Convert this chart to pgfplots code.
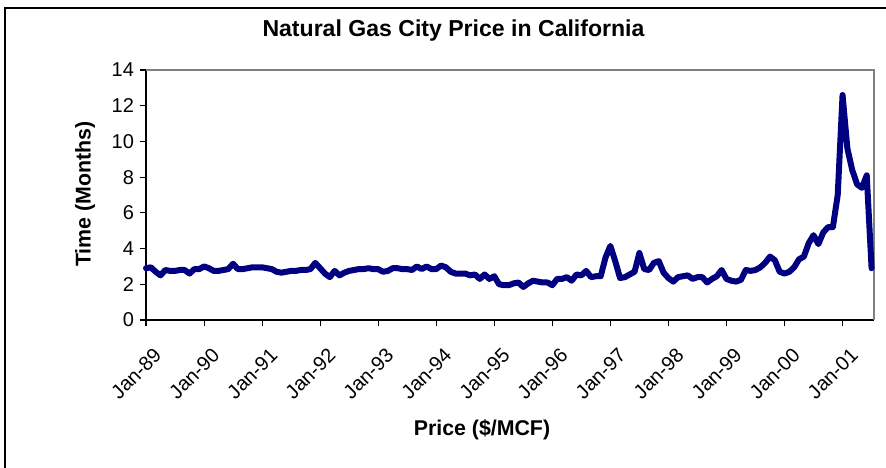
\documentclass[border=0pt]{standalone}
\usepackage{pgfplots}
\pgfplotsset{compat=1.18}
\usepackage{pgfplotstable}
\usepackage{fontspec}
\setmainfont{Liberation Sans}
\definecolor{navyline}{RGB}{0,0,128}
\definecolor{framegray}{RGB}{128,128,128}
\pgfplotstableread{
m p
0 2.9
1 2.95
2 2.7
3 2.5
4 2.8
5 2.75
6 2.75
7 2.8
8 2.8
9 2.6
10 2.85
11 2.85
12 3.0
13 2.9
14 2.75
15 2.75
16 2.8
17 2.85
18 3.15
19 2.85
20 2.85
21 2.9
22 2.95
23 2.95
24 2.95
25 2.9
26 2.85
27 2.7
28 2.65
29 2.7
30 2.75
31 2.75
32 2.8
33 2.8
34 2.85
35 3.2
36 2.9
37 2.6
38 2.4
39 2.75
40 2.5
41 2.65
42 2.75
43 2.8
44 2.85
45 2.85
46 2.9
47 2.85
48 2.85
49 2.7
50 2.75
51 2.9
52 2.9
53 2.85
54 2.85
55 2.8
56 3.0
57 2.85
58 3.0
59 2.85
60 2.85
61 3.05
62 2.95
63 2.7
64 2.6
65 2.6
66 2.6
67 2.5
68 2.55
69 2.3
70 2.55
71 2.3
72 2.45
73 2.0
74 1.95
75 1.95
76 2.05
77 2.1
78 1.85
79 2.05
80 2.2
81 2.15
82 2.1
83 2.1
84 1.95
85 2.3
86 2.3
87 2.4
88 2.2
89 2.55
90 2.5
91 2.75
92 2.4
93 2.45
94 2.45
95 3.5
96 4.15
97 3.3
98 2.35
99 2.4
100 2.55
101 2.7
102 3.75
103 2.85
104 2.8
105 3.2
106 3.3
107 2.65
108 2.35
109 2.15
110 2.4
111 2.45
112 2.5
113 2.3
114 2.4
115 2.4
116 2.1
117 2.3
118 2.45
119 2.8
120 2.3
121 2.2
122 2.15
123 2.25
124 2.8
125 2.75
126 2.8
127 2.95
128 3.2
129 3.55
130 3.35
131 2.7
132 2.6
133 2.7
134 2.95
135 3.4
136 3.55
137 4.3
138 4.75
139 4.25
140 4.9
141 5.2
142 5.2
143 7.0
144 12.6
145 9.6
146 8.4
147 7.6
148 7.4
149 8.1
150 2.9
}\gasdata
\begin{document}
\begin{tikzpicture}
\useasboundingbox (0,0) rectangle (664.5pt,351pt);
\draw[black, line width=1pt] (3.75pt,0) -- (3.75pt,345pt) -- (664.5pt,345pt);
\begin{axis}[
  at={(109.5pt,111pt)}, anchor=south west,
  scale only axis, width=546pt, height=187.5pt,
  xmin=0, xmax=150.5, ymin=0, ymax=14,
  axis x line*=bottom, axis y line*=left,
  axis line style={black, line width=0.8pt, -},
  xtick={0,12,24,36,48,60,72,84,96,108,120,132,144},
  xticklabels={Jan-89,Jan-90,Jan-91,Jan-92,Jan-93,Jan-94,Jan-95,Jan-96,Jan-97,Jan-98,Jan-99,Jan-00,Jan-01},
  ytick={0,2,4,6,8,10,12,14},
  tick align=outside, major tick length=4.5pt,
  tick style={black, line width=0.8pt},
  /pgf/number format/assume math mode=true,
  tick label style={font=\fontsize{15}{17}\selectfont},
  xticklabel style={rotate=45, anchor=east, yshift=-20pt, xshift=-4pt},
  yticklabel style={xshift=-1pt},
  title={Natural Gas City Price in California},
  title style={font=\bfseries\fontsize{17.3}{20}\selectfont, at={(0.4224,1.124)}, anchor=center, yshift=0pt},
  xlabel={Price (\$/MCF)},
  xlabel style={font=\bfseries\fontsize{16}{19}\selectfont, at={(0.4615,-0.44)}, anchor=center},
  ylabel={Time (Months)},
  ylabel style={font=\bfseries\fontsize{16}{19}\selectfont, at={(-0.0838,0.504)}, anchor=center},
  clip=false,
]
\draw[framegray, line width=1.2pt] (rel axis cs:0,1) -- (rel axis cs:1,1) -- (rel axis cs:1,0);
\addplot[navyline, line width=4.5pt, line join=round, line cap=round] table[x=m,y=p] {\gasdata};
\end{axis}
\end{tikzpicture}
\end{document}
